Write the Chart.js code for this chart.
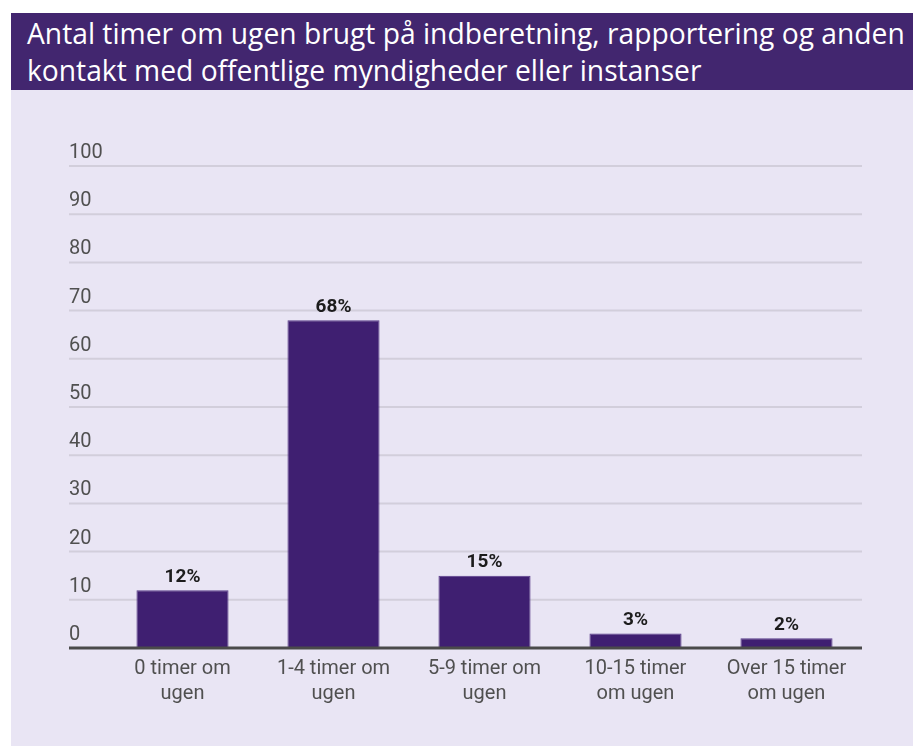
<!DOCTYPE html>
<html lang="da">
<head>
<meta charset="utf-8">
<script src="https://cdn.jsdelivr.net/npm/chart.js@4/dist/chart.umd.min.js"></script>
<style>
    html, body { margin: 0; padding: 0; background: #ffffff; }
    body { width: 913px; height: 746px; overflow: hidden; position: relative; }
    #banner {
        position: absolute; left: 11px; top: 13px; width: 902px; height: 77px;
        background: #42266f; color: #ffffff; box-sizing: border-box;
        padding: 2px 0 0 16px; font-family: "Open Sans", sans-serif; white-space: nowrap;
    }
    #banner div { height: 37px; line-height: 37px; }
    #panel { position: absolute; left: 11px; top: 90px; width: 902px; height: 656px; background: #e9e5f4; }
</style>
</head>
<body>
<div id="banner"><div id="line1">Antal timer om ugen brugt på indberetning, rapportering og anden</div><div id="line2">kontakt med offentlige myndigheder eller instanser</div></div>
<div id="panel"><canvas id="chart" width="902" height="656"></canvas></div>
<script>
const categories = [
    [`0 timer om`, `ugen`],
    [`1-4 timer om`, `ugen`],
    [`5-9 timer om`, `ugen`],
    [`10-15 timer`, `om ugen`],
    [`Over 15 timer`, `om ugen`],
];
const shares = [12, 68, 15, 3, 2];
const yTicks = [0, 10, 20, 30, 40, 50, 60, 70, 80, 90, 100];

// fit the title to the banner width, like the original Calibri text
const fitTitle = function () {
    const line1 = document.getElementById(`line1`);
    const probe = document.createElement(`canvas`).getContext(`2d`);
    probe.font = `100px "Open Sans"`;
    const w = probe.measureText(line1.textContent).width;
    const size = 100 * 878 / w;
    document.getElementById(`banner`).style.fontSize = `${size.toFixed(2)}px`;
};
fitTitle();

const purple = `#3f1f71`;
const tickGrey = `#505050`;

// grid lines, axis line and tick labels are drawn by hand from the scales,
// the y labels sit above their lines, left of the first bar
const gridPlugin = {
    id: `gridAndTicks`,
    beforeDatasetsDraw(chart) {
        const { ctx, chartArea, scales } = chart;
        const left = 58;
        ctx.save();
        yTicks.forEach(value => {
            const y = scales.y.getPixelForValue(value);
            if (value > 0) {
                ctx.strokeStyle = `#d2cedb`;
                ctx.lineWidth = 2;
                ctx.beginPath();
                ctx.moveTo(left, y);
                ctx.lineTo(chartArea.right, y);
                ctx.stroke();
            }
            ctx.fillStyle = tickGrey;
            ctx.font = `20px Roboto`;
            ctx.textAlign = `left`;
            ctx.textBaseline = `middle`;
            ctx.fillText(String(value), left, y - 13);
        });

        // category labels, two lines each
        ctx.textAlign = `center`;
        categories.forEach((lines, i) => {
            const x = scales.x.getPixelForValue(i);
            lines.forEach((text, k) => {
                ctx.fillText(text, x, chartArea.bottom + 21 + k * 25);
            });
        });
        ctx.restore();
    },
    afterDatasetsDraw(chart) {
        const { ctx, chartArea, scales } = chart;
        const y = scales.y.getPixelForValue(0);
        ctx.save();
        ctx.strokeStyle = `#4a4a4a`;
        ctx.lineWidth = 3;
        ctx.beginPath();
        ctx.moveTo(58, y);
        ctx.lineTo(chartArea.right, y);
        ctx.stroke();

        // value labels above bars
        const meta = chart.getDatasetMeta(0);
        ctx.fillStyle = `#1c1c1c`;
        ctx.font = `bold 19px Roboto`;
        ctx.textAlign = `center`;
        ctx.textBaseline = `middle`;
        meta.data.forEach((bar, i) => {
            ctx.fillText(`${shares[i]}%`, bar.x, bar.y - 13);
        });
        ctx.restore();
    },
};

new Chart(document.getElementById(`chart`), {
    type: `bar`,
    data: {
        labels: categories,
        datasets: [{
            data: shares,
            backgroundColor: purple,
            borderColor: `#5a3d8a`,
            borderWidth: 1,
            categoryPercentage: 1,
            barPercentage: 0.61,
        }],
    },
    options: {
        responsive: false,
        animation: false,
        layout: { padding: { left: 96, right: 51, top: 76, bottom: 98 } },
        plugins: { legend: { display: false }, tooltip: { enabled: false } },
        scales: {
            y: { display: false, min: 0, max: 100 },
            x: { display: false },
        },
    },
    plugins: [gridPlugin],
});
</script>
</body>
</html>
